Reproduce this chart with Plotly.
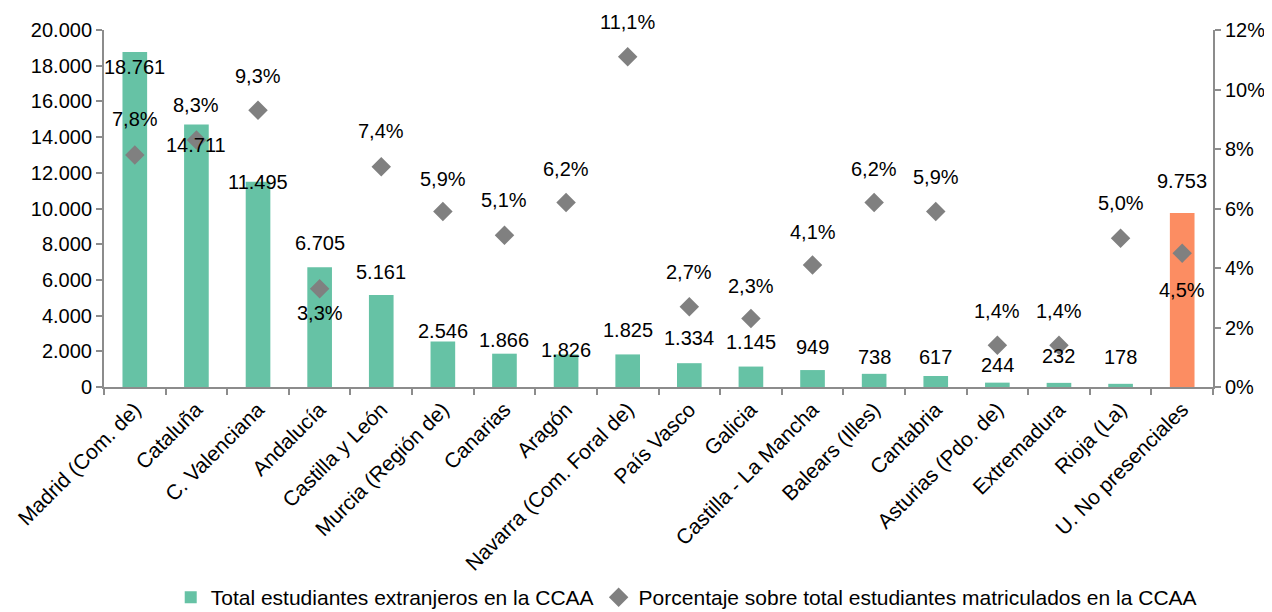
import plotly.graph_objects as go

categories = ["Madrid (Com. de)", "Cataluña", "C. Valenciana", "Andalucía", "Castilla y León",
              "Murcia (Región de)", "Canarias", "Aragón", "Navarra (Com. Foral de)", "País Vasco",
              "Galicia", "Castilla - La Mancha", "Balears (Illes)", "Cantabria", "Asturias (Pdo. de)",
              "Extremadura", "Rioja (La)", "U. No presenciales"]
students = [18761, 14711, 11495, 6705, 5161, 2546, 1866, 1826, 1825, 1334, 1145, 949, 738, 617, 244, 232, 178, 9753]
percent = [7.8, 8.3, 9.3, 3.3, 7.4, 5.9, 5.1, 6.2, 11.1, 2.7, 2.3, 4.1, 6.2, 5.9, 1.4, 1.4, 5.0, 4.5]

# label offsets (pixels) as placed in the original chart
bar_label_shift = [-15, -21, 0, 24, 23, 11, 14, 4, 24, 25, 25, 23, 17, 19, 18, 27, 27, 32]
pct_label_shift = [36, 35, 34, -24, 36, 32, 35, 34, 35, 35, 33, 33, 34, 34, 34, 34, 35, -37]

green = "#66C2A5"
orange = "#FC8D62"
bar_colors = [green] * (len(categories) - 1) + [orange]
font = "Liberation Sans, Arial, sans-serif"
axis_col = "#8C8C8C"
fs = 20

fig = go.Figure()
fig.add_trace(go.Bar(x=categories, y=students, marker_color=bar_colors, marker_line_width=0,
                     name="Total estudiantes extranjeros en la CCAA", yaxis="y"))
fig.add_trace(go.Scatter(x=categories, y=percent, mode="markers", yaxis="y2",
                         marker=dict(symbol="diamond", size=15, color="#808080"),
                         name="Porcentaje sobre total estudiantes matriculados en la CCAA"))

ann = []
for c, v, s in zip(categories, students, bar_label_shift):
    ann.append(dict(x=c, y=v, xref="x", yref="y", text=f"{v:,}".replace(",", "."),
                    showarrow=False, yshift=s, font=dict(size=fs, color="black", family=font)))
for c, v, s in zip(categories, percent, pct_label_shift):
    ann.append(dict(x=c, y=v, xref="x", yref="y2", text=f"{v:.1f}".replace(".", ",") + "%",
                    showarrow=False, yshift=s, font=dict(size=fs, color="black", family=font)))

fig.update_layout(
    width=1264, height=604,
    margin=dict(l=96, r=59, t=22, b=225, autoexpand=False),
    plot_bgcolor="white", paper_bgcolor="white",
    separators=",.",
    font=dict(family=font, size=fs, color="black"),
    bargap=0.6,
    annotations=ann,
    showlegend=True,
    legend=dict(orientation="h", x=0.525, xanchor="center", y=-0.59, yanchor="middle",
                font=dict(size=21, color="black"), itemwidth=30, tracegroupgap=0),
    xaxis=dict(range=[-0.5, len(categories) - 0.5], showline=True, linecolor=axis_col, linewidth=2,
               ticks="outside", tickcolor=axis_col, ticklen=6, tickwidth=2, tickson="boundaries",
               tickangle=-45, showgrid=False, tickfont=dict(size=21), automargin=False),
    yaxis=dict(range=[0, 20000], dtick=2000, tickformat=",d", showline=True, linecolor=axis_col,
               linewidth=2, ticks="outside", tickcolor=axis_col, ticklen=6, tickwidth=2,
               showgrid=False, zeroline=False, tickfont=dict(size=fs), automargin=False),
    yaxis2=dict(range=[0, 12], dtick=2, ticksuffix="%", overlaying="y", side="right",
                showline=True, linecolor=axis_col, linewidth=2, ticks="outside", tickcolor=axis_col,
                ticklen=6, tickwidth=2, showgrid=False, zeroline=False, tickfont=dict(size=fs),
                automargin=False),
)

fig.write_html("out.html")
